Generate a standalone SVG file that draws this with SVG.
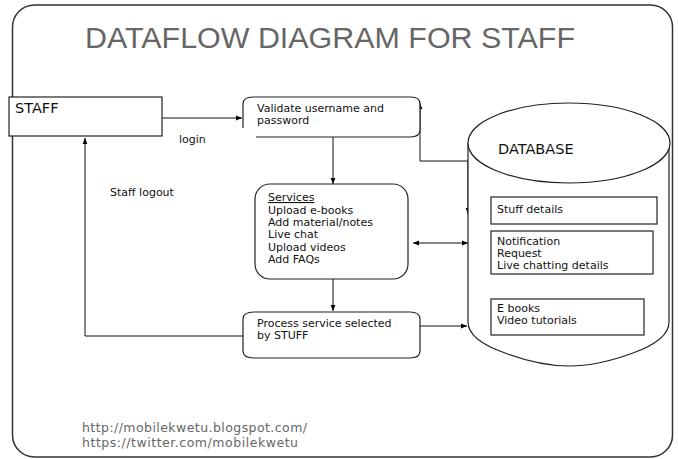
<svg xmlns="http://www.w3.org/2000/svg" width="678" height="459" viewBox="0 0 678 459">
  <defs>
    <marker id="arrow" viewBox="0 0 10 10" refX="10" refY="5" markerWidth="6" markerHeight="6" orient="auto-start-reverse" markerUnits="userSpaceOnUse">
      <path d="M0,1 L10,5 L0,9 Z" fill="#000"/>
    </marker>
    <style>
      .frame { fill: #fff; stroke: #333; stroke-width: 1.5; }
      .shape { fill: #fff; stroke: #222; stroke-width: 1.2; }
      .line { fill: none; stroke: #111; stroke-width: 1; }
      .title { font-family: "Liberation Sans", Arial, sans-serif; font-size: 30px; fill: #666; }
      .txt { font-family: "DejaVu Sans", Verdana, sans-serif; font-size: 11px; fill: #111; }
      .big { font-family: "DejaVu Sans", Verdana, sans-serif; font-size: 14.5px; fill: #111; }
      .url { font-family: "DejaVu Sans", Verdana, sans-serif; font-size: 12.5px; fill: #666; }
    </style>
  </defs>

  <rect width="678" height="459" fill="#fff"/>
  <rect class="frame" x="12.5" y="5" width="660" height="452" rx="22" ry="22"/>

  <text class="title" x="85" y="48" textLength="490" lengthAdjust="spacingAndGlyphs">DATAFLOW DIAGRAM FOR STAFF</text>

  <!-- connectors -->
  <g id="connectors">
    <path class="line" d="M162,118 L242,118" marker-end="url(#arrow)"/>
    <path class="line" d="M468,161 L420,161 L420,103" marker-end="url(#arrow)"/>
    <path class="line" d="M468,161 L468,214" marker-end="url(#arrow)"/>
    <path class="line" d="M333,137 L333,184" marker-end="url(#arrow)"/>
    <path class="line" d="M413,243 L468,243" marker-start="url(#arrow)" marker-end="url(#arrow)"/>
    <path class="line" d="M333,279 L333,311" marker-end="url(#arrow)"/>
    <path class="line" d="M410,326 L467,326" marker-start="url(#arrow)" marker-end="url(#arrow)"/>
    <path class="line" d="M243,336 L85,336 L85,138" marker-end="url(#arrow)"/>
  </g>

  <g id="staff">
    <rect class="shape" x="9" y="97" width="153" height="39"/>
    <text class="big" x="15" y="113">STAFF</text>
  </g>
  <text class="txt" x="179" y="143">login</text>
  <text class="txt" x="110" y="196">Staff logout</text>

  <g id="validate">
    <path class="shape" d="M243,128 L243,104 Q243,97 253,97 L411,97 Q420,97 420,104 L420,130 Q420,137 410,137 L256,137" fill="none"/>
    <text class="txt" x="257" y="112">Validate username and</text>
    <text class="txt" x="257" y="124">password</text>
  </g>

  <g id="services">
    <rect class="shape" x="255" y="184" width="153" height="95" rx="15" ry="15"/>
    <text class="txt" x="268" y="201" text-decoration="underline">Services</text>
    <text class="txt" x="268" y="213.5">Upload e-books</text>
    <text class="txt" x="268" y="226">Add material/notes</text>
    <text class="txt" x="268" y="238">Live chat</text>
    <text class="txt" x="268" y="250.5">Upload videos</text>
    <text class="txt" x="268" y="263">Add FAQs</text>
  </g>

  <g id="process">
    <path class="shape" d="M243,319 Q243,312 254,312 L410,312 Q420,312 420,319 L420,351 Q420,358 410,358 L254,358 Q243,358 243,351 Z"/>
    <text class="txt" x="257" y="327">Process service selected</text>
    <text class="txt" x="257" y="339">by STUFF</text>
  </g>

  <g id="database">
    <path class="shape" d="M468,143 L468,322 Q468,340 505,353 Q540,366 569,366 Q598,366 633,353 Q669,340 669,322 L669,143"/>
    <ellipse class="shape" cx="569" cy="143" rx="101" ry="40"/>
    <text class="big" x="498" y="154">DATABASE</text>
    <rect class="shape" x="491" y="197" width="166" height="27"/>
    <text class="txt" x="497" y="213">Stuff details</text>
    <rect class="shape" x="491" y="231" width="162" height="43"/>
    <text class="txt" x="497" y="245">Notification</text>
    <text class="txt" x="497" y="257">Request</text>
    <text class="txt" x="497" y="268.5">Live chatting details</text>
    <rect class="shape" x="491" y="299" width="153" height="36"/>
    <text class="txt" x="497" y="312">E books</text>
    <text class="txt" x="497" y="324">Video tutorials</text>
  </g>

  <text class="url" x="82" y="432" textLength="225" lengthAdjust="spacing">http://mobilekwetu.blogspot.com/</text>
  <text class="url" x="82" y="447" textLength="216" lengthAdjust="spacing">https://twitter.com/mobilekwetu</text>
</svg>
